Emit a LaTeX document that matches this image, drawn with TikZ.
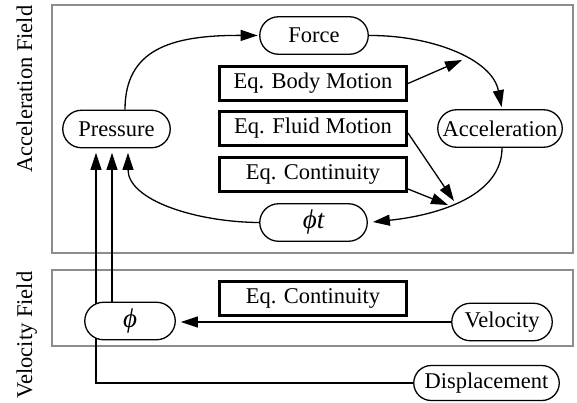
\documentclass[tikz,border=0pt]{standalone}
\usepackage{fontspec}
\setmainfont{Liberation Serif}
\usetikzlibrary{arrows.meta,shapes.misc,backgrounds}

\begin{document}
\begin{tikzpicture}[x=1pt,y=-1pt,
  every node/.style={font=\fontsize{22.5}{27}\selectfont, inner sep=0pt},
  pill/.style={rounded rectangle, draw, line width=1.3pt, fill=white, minimum height=37.5pt},
  eqbox/.style={rectangle, draw, line width=3pt, fill=white, minimum width=187pt, minimum height=34pt},
  fieldframe/.style={draw=black!45, line width=1.5pt},
  flow/.style={line width=1.3pt, -{Triangle[length=17pt,width=11pt]}},
  fieldlabel/.style={rotate=90, anchor=base},
  potential/.style={font=\fontsize{27}{30}\selectfont\itshape}
]
\useasboundingbox (0,0) rectangle (577,402);

% field labels
\node[fieldlabel] (accfield) at (32,89) {Acceleration Field};
\node[fieldlabel] (velfield) at (32,335) {Velocity Field};

% quantities
\node[pill, minimum width=108.5pt] (force) at (314,35.5) {Force};
\node[pill, minimum width=107.5pt] (pres) at (116.5,129) {Pressure};
\node[pill, minimum width=124.5pt] (acc) at (500,128.5) {Acceleration};
\node[pill, potential, minimum width=107.5pt] (phit) at (313.5,222.5) {ϕt};
\node[pill, potential, minimum width=90.5pt] (phi) at (130,321) {ϕ};
\node[pill, minimum width=100.5pt] (vel) at (502,322) {Velocity};
\node[pill, minimum width=145.5pt, minimum height=35pt] (disp) at (486.5,383) {Displacement};

% governing equations
\node[eqbox] (body) at (313,83.5) {Eq. Body Motion};
\node[eqbox] (fluid) at (313,128.5) {Eq. Fluid Motion};
\node[eqbox] (cont) at (313,174.5) {Eq. Continuity};
\node[eqbox] (vcont) at (313,298) {Eq. Continuity};

% field frames and the displacement feed, kept behind the nodes
\begin{pgfonlayer}{background}
  \draw[fieldframe] (52,5) rectangle (573,253);
  \draw[fieldframe] (52,270) rectangle (573,346);
  \draw[flow, shorten >=4.5pt] (disp.west) -| ([xshift=-20.5pt]pres.south);
\end{pgfonlayer}

% points where the equations join the cycle
\coordinate (jbody) at (462,60);
\coordinate (jfluid) at (454,201);
\coordinate (jcont) at (448,205);

% acceleration cycle
\draw[flow, shorten >=1.5pt] ([xshift=8.5pt]pres.north) .. controls (125,50) and (170,35) .. (force.west);
\draw[flow, shorten >=2pt] (force.east) .. controls (429,35) and (492,58) .. ([xshift=2pt]acc.north);
\draw[flow, shorten >=5pt] ([xshift=2pt]acc.south) .. controls (502,195) and (440,215) .. (phit.east);
\draw[flow, shorten >=4.5pt] (phit.west) .. controls (195,222) and (128,200) .. ([xshift=11.5pt]pres.south);

% equation inputs
\draw[flow] (body.east) -- (jbody);
\draw[flow] ([yshift=-4.5pt]fluid.east) -- (jfluid);
\draw[flow] ([yshift=-14.5pt]cont.east) -- (jcont);

% velocity field
\draw[flow, shorten >=4.5pt] ([xshift=-4.5pt]pres.south |- phi.north) -- ([xshift=-4.5pt]pres.south);
\draw[flow, shorten >=5pt] (vel.west) -- (vel.west -| phi.east);
\end{tikzpicture}
\end{document}
